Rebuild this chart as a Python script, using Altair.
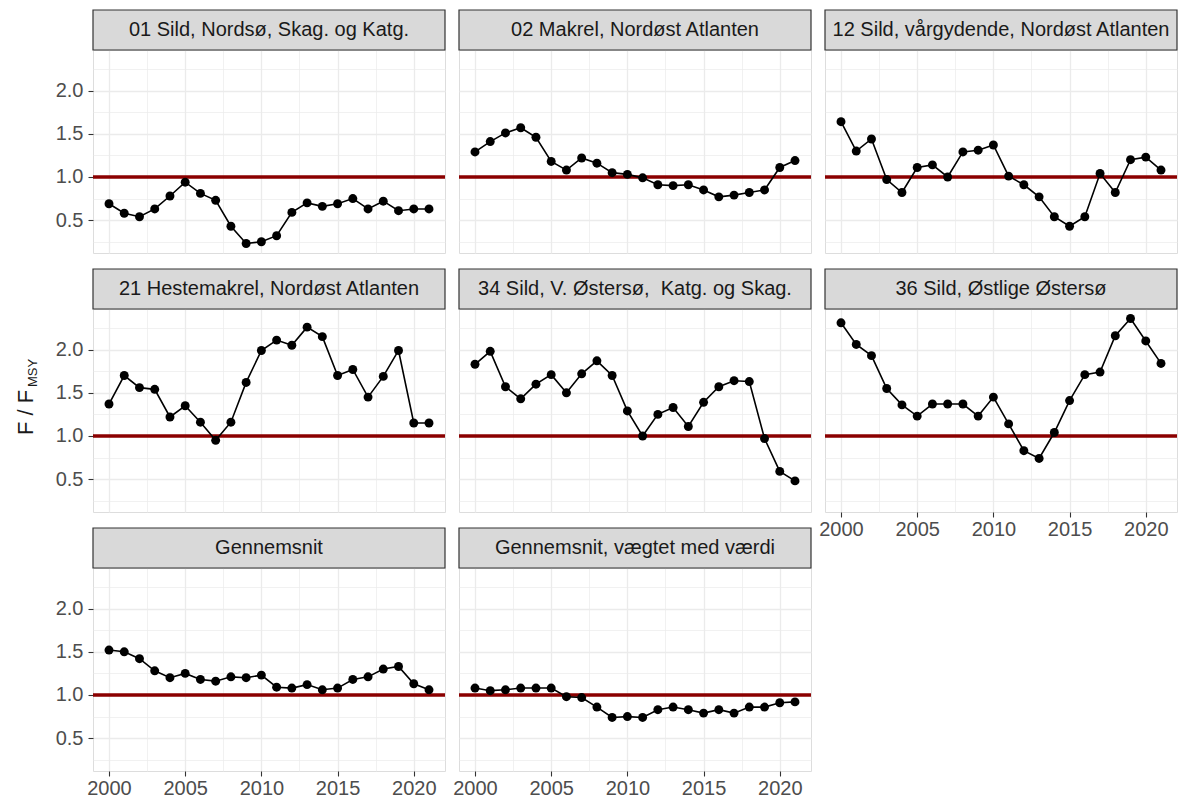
import altair as alt
import pandas as pd

FONT = "Liberation Sans"

YEARS = list(range(2000, 2022))

TITLES = [
    "01 Sild, Nordsø, Skag. og Katg.",
    "02 Makrel, Nordøst Atlanten",
    "12 Sild, vårgydende, Nordøst Atlanten",
    "21 Hestemakrel, Nordøst Atlanten",
    "34 Sild, V. Østersø,\u00a0 Katg. og Skag.",
    "36 Sild, Østlige Østersø",
    "Gennemsnit",
    "Gennemsnit, vægtet med værdi",
]

S01 = [0.69, 0.58, 0.54, 0.63, 0.78, 0.94, 0.81, 0.73, 0.43, 0.23, 0.25, 0.32,
       0.59, 0.70, 0.66, 0.69, 0.75, 0.63, 0.72, 0.61, 0.63, 0.63]
S02 = [1.29, 1.41, 1.51, 1.57, 1.46, 1.18, 1.08, 1.22, 1.16, 1.05, 1.03, 0.99,
       0.91, 0.90, 0.91, 0.85, 0.77, 0.79, 0.82, 0.85, 1.11, 1.19]
S12 = [1.64, 1.30, 1.44, 0.97, 0.82, 1.11, 1.14, 1.00, 1.29, 1.31, 1.37, 1.01,
       0.91, 0.77, 0.54, 0.43, 0.54, 1.04, 0.82, 1.20, 1.23, 1.08]
S21 = [1.37, 1.70, 1.56, 1.54, 1.22, 1.35, 1.16, 0.95, 1.16, 1.62, 1.99, 2.11,
       2.05, 2.26, 2.15, 1.70, 1.77, 1.45, 1.69, 1.99, 1.15, 1.15]
S34 = [1.83, 1.98, 1.57, 1.43, 1.60, 1.71, 1.50, 1.72, 1.87, 1.70, 1.29, 1.00,
       1.25, 1.33, 1.11, 1.39, 1.57, 1.64, 1.63, 0.97, 0.59, 0.48]
S36 = [2.31, 2.06, 1.93, 1.55, 1.36, 1.23, 1.37, 1.37, 1.37, 1.23, 1.45, 1.14,
       0.83, 0.74, 1.04, 1.41, 1.71, 1.74, 2.16, 2.36, 2.10, 1.84]
SAVG = [1.52, 1.50, 1.42, 1.28, 1.20, 1.25, 1.18, 1.16, 1.21, 1.20, 1.23, 1.09,
        1.08, 1.12, 1.06, 1.08, 1.18, 1.21, 1.30, 1.33, 1.13, 1.06]
SWAVG = [1.08, 1.05, 1.06, 1.08, 1.08, 1.08, 0.98, 0.97, 0.86, 0.74, 0.75, 0.74,
         0.83, 0.86, 0.83, 0.79, 0.83, 0.79, 0.86, 0.86, 0.91, 0.92]

SERIES = [S01, S02, S12, S21, S34, S36, SAVG, SWAVG]

REF = 1.0
X_TICKS = [2000, 2002.5, 2005, 2007.5, 2010, 2012.5, 2015, 2017.5, 2020]
Y_TICKS = [0.25, 0.5, 0.75, 1.0, 1.25, 1.5, 1.75, 2.0, 2.25]
X_DOMAIN = [1998.95, 2022.05]
Y_DOMAIN = [0.12, 2.47]
Y_TITLE_MAIN = "F / F"
Y_TITLE_SUB = "MSY"

W = 352
H = 203
SH = 40

rows = []
for t, vals in zip(TITLES, SERIES):
    for yr, v in zip(YEARS, vals):
        rows.append({"panel": t, "year": yr, "value": v})
df = pd.DataFrame(rows)
ref_df = pd.DataFrame({"ref": [REF]})

GRID = "#ebebeb"
TICKC = "#333333"
LABC = "#4d4d4d"


def x_axis(show):
    return alt.Axis(
        values=X_TICKS, format="d", title=None, domain=False,
        grid=True, gridColor=GRID,
        gridWidth={"condition": {"test": "datum.value % 5 === 0", "value": 1.3}, "value": 0.7},
        labels=show, ticks=show,
        tickColor=TICKC, tickSize=5, tickWidth=1.1,
        tickOpacity={"condition": {"test": "datum.value % 5 === 0", "value": 1}, "value": 0},
        labelExpr="datum.value % 5 === 0 ? datum.label : ''",
        labelFont=FONT, labelFontSize=20, labelColor=LABC, labelPadding=2,
    )


def y_axis(show):
    return alt.Axis(
        values=Y_TICKS, format=".1f", title=None, domain=False,
        grid=True, gridColor=GRID,
        gridWidth={"condition": {"test": "datum.value % 0.5 === 0", "value": 1.3}, "value": 0.7},
        labels=show, ticks=show,
        tickColor=TICKC, tickSize=5, tickWidth=1.1,
        tickOpacity={"condition": {"test": "datum.value % 0.5 === 0", "value": 1}, "value": 0},
        labelExpr="datum.value % 0.5 === 0 ? datum.label : ''",
        labelFont=FONT, labelFontSize=20, labelColor=LABC, labelPadding=5,
    )


def make_panel(i):
    title = TITLES[i]
    d = df[df["panel"] == title]
    col = i % 3
    left = col == 0
    bottom = i in (5, 6, 7)
    xs = alt.Scale(domain=X_DOMAIN, nice=False, zero=False)
    ys = alt.Scale(domain=Y_DOMAIN, nice=False, zero=False)
    xa = x_axis(bottom)
    ya = y_axis(left)

    base = alt.Chart(d).encode(
        x=alt.X("year:Q", scale=xs, axis=xa),
        y=alt.Y("value:Q", scale=ys, axis=ya),
    )
    rule = alt.Chart(ref_df).mark_rule(color="#8b0000", strokeWidth=3.6).encode(
        y=alt.Y("ref:Q", scale=ys, axis=ya)
    )
    line = base.mark_line(color="black", strokeWidth=1.6)
    pts = base.mark_circle(size=80, color="black", opacity=1)

    sdf = pd.DataFrame({"t": [title]})
    sbg = alt.Chart(sdf).mark_rect(fill="#d9d9d9", stroke="#333333", strokeWidth=1.2).encode(
        x=alt.value(0), x2=alt.value(W), y=alt.value(-SH), y2=alt.value(0)
    )
    stxt = alt.Chart(sdf).mark_text(font=FONT, fontSize=20, color="#1a1a1a").encode(
        text="t:N", x=alt.value(W / 2), y=alt.value(-SH / 2)
    )
    layers = [rule, line, pts, sbg, stxt]
    if i == 3:
        t1 = alt.Chart(pd.DataFrame({"t": [Y_TITLE_MAIN]})).mark_text(
            font=FONT, fontSize=22, color="#1a1a1a", angle=270, align="left", baseline="alphabetic"
        ).encode(text="t:N", x=alt.value(-60), y=alt.value(126))
        t2 = alt.Chart(pd.DataFrame({"t": [Y_TITLE_SUB]})).mark_text(
            font=FONT, fontSize=13, color="#1a1a1a", angle=270, align="left", baseline="alphabetic"
        ).encode(text="t:N", x=alt.value(-56), y=alt.value(78))
        layers += [t1, t2]
    return alt.layer(*layers).properties(width=W, height=H)


panels = [make_panel(i) for i in range(len(TITLES))]

chart = alt.concat(
    *panels, columns=3, spacing={"row": 16 + SH, "column": 14}, bounds="flush"
).properties(
    padding={"left": 6, "top": 0, "right": 0, "bottom": 0},
    background="white",
).configure_view(
    stroke="#333333", strokeWidth=1.2
).configure(font=FONT)

chart.save("out.html", embed_options={"renderer": "svg", "actions": False})
